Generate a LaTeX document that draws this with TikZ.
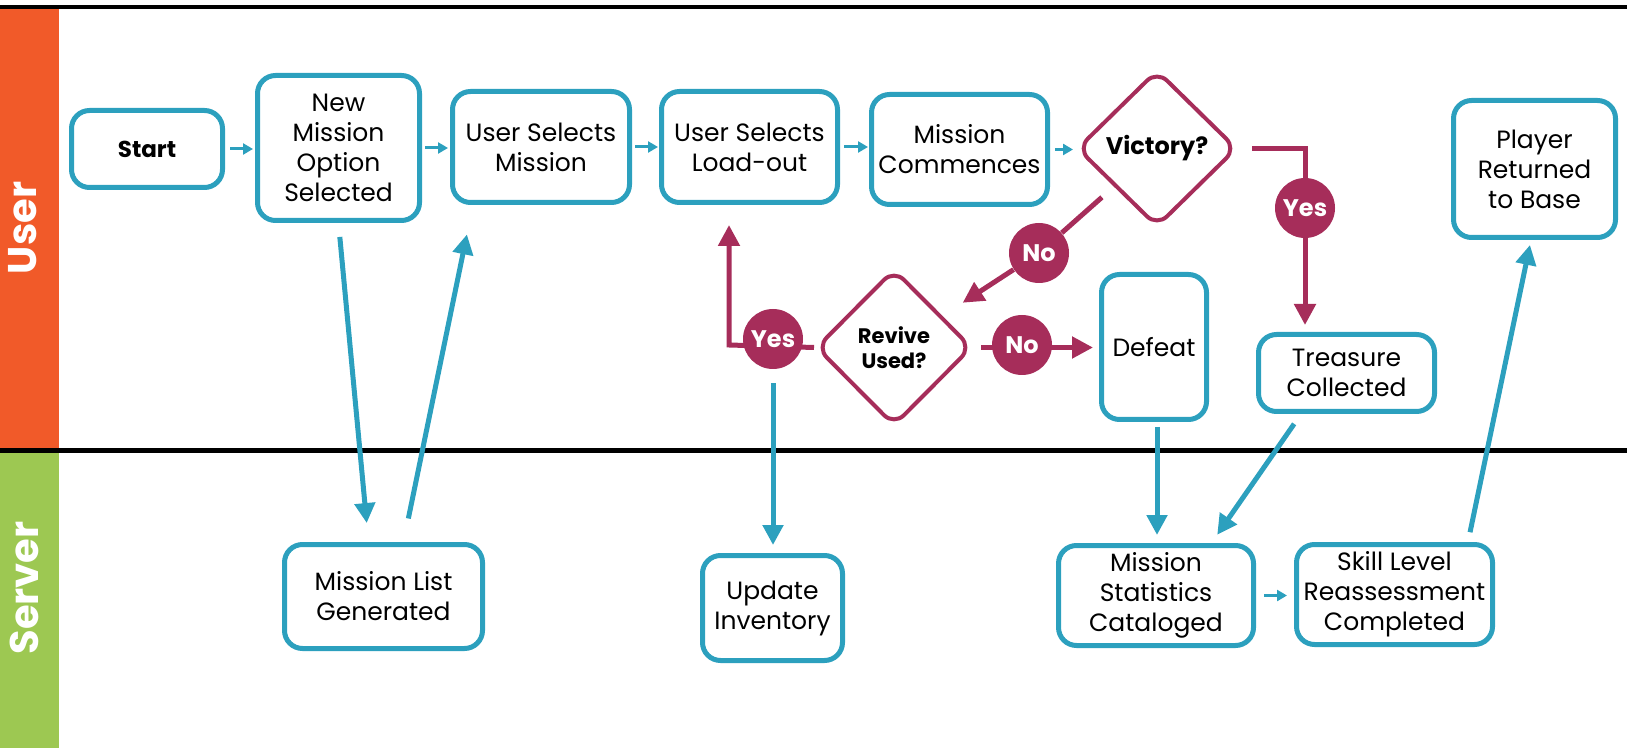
\documentclass[tikz,border=0pt]{standalone}
\usepackage{fontspec}
\setmainfont{Poppins}
\usetikzlibrary{shapes.geometric,arrows.meta,backgrounds}
\definecolor{laneorange}{RGB}{241,90,41}
\definecolor{lanegreen}{RGB}{157,200,82}
\definecolor{boxblue}{RGB}{44,160,190}
\definecolor{decred}{RGB}{166,45,90}

\begin{document}
\begin{tikzpicture}[x=0.5pt,y=-0.5pt,
  box/.style={draw=boxblue,line width=2.5pt,rounded corners=9pt,align=center,inner sep=0pt,font=\fontsize{12.5}{15}\selectfont},
  dec/.style={draw=decred,line width=2pt,shape=diamond,rounded corners=7pt,align=center,inner sep=0pt,fill=white},
  tag/.style={circle,fill=decred,text=white,minimum size=30pt,inner sep=0pt,font=\fontsize{12}{14}\selectfont\bfseries},
  link/.style={boxblue,line width=1.5pt,-{Triangle[length=5pt,width=5.5pt]}},
  biglink/.style={boxblue,line width=2.5pt,-{Triangle[length=10pt,width=10pt]}},
  declink/.style={decred,line width=2.5pt,-{Triangle[length=10.5pt,width=10.5pt]}},
  lanelabel/.style={rotate=90,anchor=base,text=white,font=\fontsize{20}{24}\selectfont\bfseries}]
\useasboundingbox (0,0) rectangle (1627,748);
\node[box,minimum width=75.5pt,minimum height=38.5pt,font=\fontsize{11.5}{14}\selectfont\bfseries] (start) at (147,149) {Start};
\node[box,minimum width=81pt,minimum height=72.5pt] (newm) at (338.5,148) {New\\Mission\\Option\\Selected};
\node[box,minimum width=88.5pt,minimum height=55.5pt] (selm) at (541,147) {User Selects\\Mission};
\node[box,minimum width=88pt,minimum height=55.5pt] (load) at (749.5,147) {User Selects\\Load-out};
\node[box,minimum width=88pt,minimum height=55pt] (comm) at (959.5,149.5) {Mission\\Commences};
\node[dec,minimum width=80pt,minimum height=78.5pt,font=\fontsize{12}{14}\selectfont\bfseries] (victory) at (1157,148.5) {Victory?};
\node[box,minimum width=81pt,minimum height=68.5pt] (player) at (1534.5,169) {Player\\Returned\\to Base};
\node[dec,minimum width=78pt,minimum height=78.5pt,font=\fontsize{10.5}{12.5}\selectfont\bfseries] (revive) at (894,347.5) {Revive\\Used?};
\node[box,minimum width=52.5pt,minimum height=72.5pt] (defeat) at (1154,347) {Defeat};
\node[box,minimum width=88pt,minimum height=38.5pt] (treasure) at (1346.5,373) {Treasure\\Collected};
\node[box,minimum width=99pt,minimum height=52pt] (mlist) at (383.5,596.5) {Mission List\\Generated};
\node[box,minimum width=70pt,minimum height=52.5pt] (update) at (772.5,608) {Update\\Inventory};
\node[box,minimum width=97.5pt,minimum height=50pt] (stats) at (1156,595.5) {Mission\\Statistics\\Cataloged};
\node[box,minimum width=98pt,minimum height=50pt] (skill) at (1394.5,594.5) {Skill Level\\Reassessment\\Completed};
\node[tag] (yesA) at (1305,208) {Yes};
\node[tag] (noA) at (1039,253) {No};
\node[tag] (yesB) at (773,339) {Yes};
\node[tag] (noB) at (1022,345) {No};
\coordinate (bend) at (729,345);
\begin{scope}[on background layer]
\fill[laneorange] (0,9) rectangle (59,448);
\fill[lanegreen] (0,453) rectangle (59,748);
\draw[line width=2.25pt] (0,7) -- (1627,7);
\draw[line width=2.5pt] (0,450.5) -- (1627,450.5);
\node[lanelabel] (user) at (36,228) {User};
\node[lanelabel] (server) at (38,588) {Server};
\draw[link,shorten <=2.5pt,shorten >=1pt] (start.east) -- (start.east -| newm.west);
\draw[link,shorten <=1.5pt,shorten >=1pt] (newm.east) -- (newm.east -| selm.west);
\draw[link,shorten <=1.5pt,shorten >=0.5pt] (selm.east) -- (selm.east -| load.west);
\draw[link,shorten <=2pt,shorten >=0.5pt] (load.east) -- (load.east -| comm.west);
\draw[link,shorten <=2.5pt,shorten >=1pt] (comm.east) -- (comm.east -| victory.west);
\draw[link,shorten <=4pt,shorten >=3.5pt] (stats.east) -- (stats.east -| skill.west);
\draw[biglink,shorten <=7pt,shorten >=9.5pt] (newm.south) -- ([xshift=-7.5pt]mlist.north);
\draw[biglink,shorten <=12pt,shorten >=15pt] ([xshift=10pt]mlist.north) -- ([xshift=-34pt]selm.south);
\draw[biglink,shorten <=7pt,shorten >=4pt] (yesB.south) -- (yesB.south |- update.north);
\draw[biglink,shorten <=2.5pt,shorten >=4pt] ([xshift=1.5pt]defeat.south) -- ([xshift=1.5pt]defeat.south |- stats.north);
\draw[biglink,shorten <=6pt,shorten >=5pt] ([xshift=-22.75pt]treasure.south) -- ([xshift=27.75pt]stats.north);
\draw[biglink,shorten <=5pt,shorten >=2.5pt] ([xshift=36.75pt]skill.north) -- ([xshift=-1.75pt]player.south);
\draw[declink,shorten <=6.5pt,shorten >=3.5pt] (victory.east) -| (yesA |- treasure.north);
\draw[decred,line width=2.5pt,shorten <=8pt] (victory) -- (noA);
\draw[declink,shorten >=12pt] (noA) -- (revive);
\draw[declink,shorten >=10pt] (revive.west) -- (bend) -- (bend |- load.south);
\draw[declink,shorten <=3.5pt,shorten >=3pt] (revive.east) -- (revive.east -| defeat.west);
\end{scope}
\end{tikzpicture}
\end{document}
